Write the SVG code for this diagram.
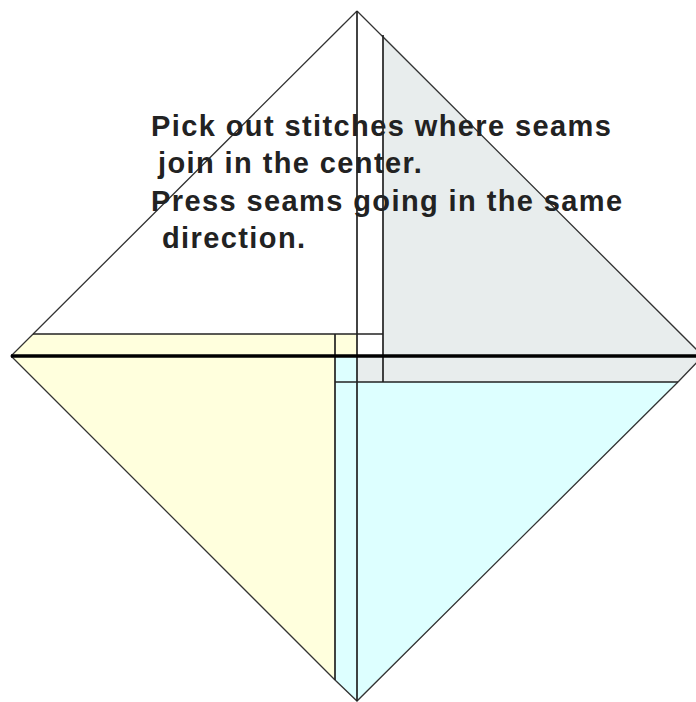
<svg xmlns="http://www.w3.org/2000/svg" width="696" height="702" viewBox="0 0 696 702">
<style>
.ln{stroke:#333;stroke-width:1.3;fill:none}
.ed{stroke:#222;stroke-width:1.7;fill:none}
.tx{font-family:"Liberation Sans",Arial,sans-serif;font-weight:bold;font-size:29px;letter-spacing:1.4px;fill:#222}
</style>
<rect width="696" height="702" fill="#fff"/>
<g id="grey-patch"><polygon points="383,35 703,356 678,382 357,382 357,356 383,356" fill="#E8EDED"/></g>
<g id="yellow-patch"><polygon points="33,334 357,334 357,356 335,356 335,680 11,356" fill="#FFFFDD"/></g>
<g id="cyan-patch"><polygon points="335,356 357,356 357,382 678,382 357,701 335,680" fill="#DDFFFF"/></g>
<g id="connectors">
<polyline class="ln" points="357,11 11,356 335,680 357,701 678,382 703,356 357,11"/>
<line class="ed" x1="357" y1="11" x2="357" y2="701"/>
<line class="ed" x1="383" y1="35" x2="383" y2="382"/>
<line class="ed" x1="335" y1="334" x2="335" y2="680"/>
<line class="ed" x1="33" y1="334" x2="383" y2="334"/>
<line class="ed" x1="335" y1="382" x2="678" y2="382"/>
<line x1="11" y1="356" x2="696" y2="356" stroke="#000" stroke-width="3.5"/>
</g>
<g id="label">
<text class="tx" x="151" y="136">Pick out stitches where seams</text>
<text class="tx" x="158" y="173">join in the center.</text>
<text class="tx" x="151" y="211">Press seams going in the same</text>
<text class="tx" x="162" y="248">direction.</text>
</g>
</svg>
